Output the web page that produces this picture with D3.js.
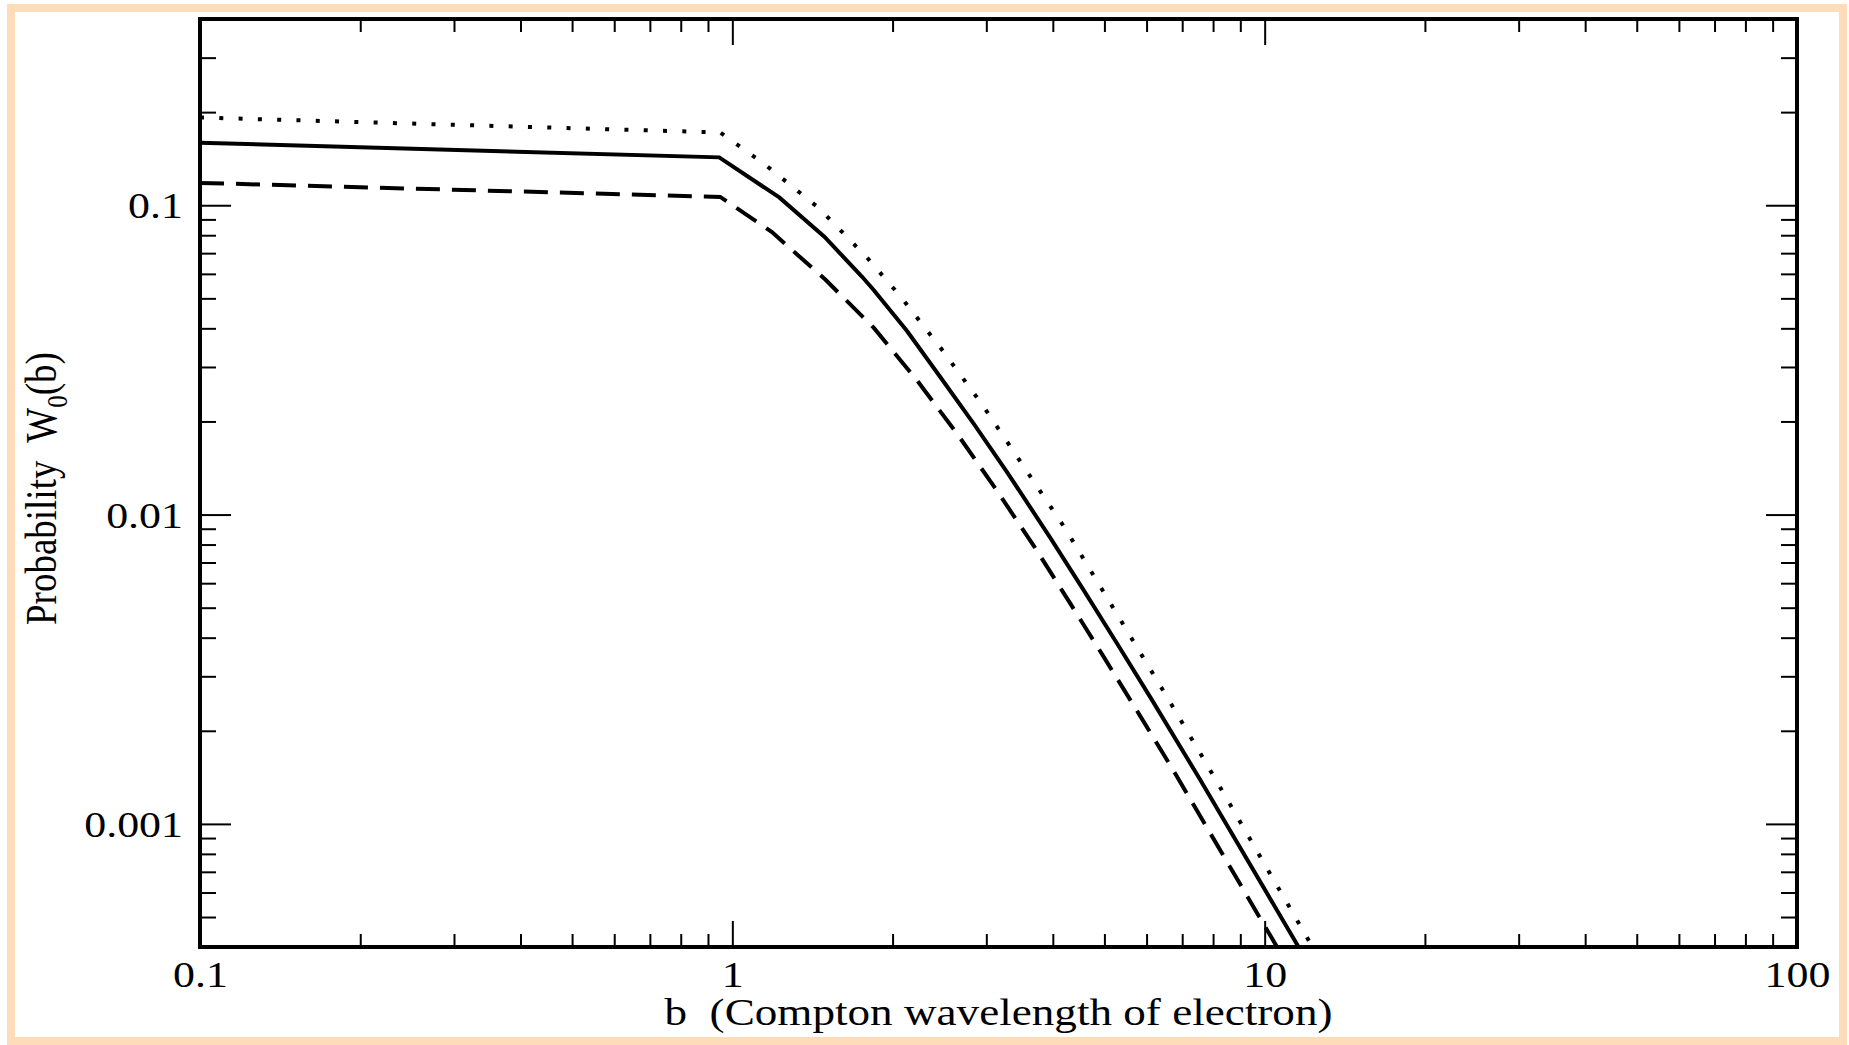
<!DOCTYPE html>
<html>
<head>
<meta charset="utf-8">
<script src="https://cdn.jsdelivr.net/npm/d3@7"></script>
<style>
  body { margin: 0; background: #fff; }
  svg { display: block; }
  text { font-family: "Liberation Serif", "Times New Roman", serif; fill: #000; }
</style>
</head>
<body>
<div id="container"></div>
<script>
// data: b in Compton wavelengths, W0(b)
const bSolid = [0.1, 0.945, 1.225, 1.489, 1.753, 1.843, 2.129, 2.458, 2.84, 3.281, 3.957, 4.57, 5.281, 6.1, 7.571, 11.58];
const wSolid = [0.1592, 0.1428, 0.106, 0.0791, 0.0587, 0.0532, 0.0392, 0.02784, 0.01968, 0.01372, 0.00841, 0.0057, 0.00383, 0.002564, 0.001387, 0.0004];

const bDotted = [0.1, 0.949, 1.145, 1.453, 1.791, 2.068, 2.477, 2.945, 3.465, 4.224, 5.498, 6.62, 7.96, 12.3];
const wDotted = [0.1922, 0.1719, 0.1365, 0.098, 0.0677, 0.0508, 0.0341, 0.0227, 0.01496, 0.00899, 0.004244, 0.0025, 0.001459, 0.0004];

const bDashed = [0.1, 0.949, 1.187, 1.495, 1.843, 2.223, 2.65, 3.133, 3.681, 4.301, 5.005, 5.823, 6.745, 10.55];
const wDashed = [0.1181, 0.1064, 0.0819, 0.0575, 0.0402, 0.02715, 0.01815, 0.01202, 0.00794, 0.0052, 0.003428, 0.002248, 0.001484, 0.0004];

const xMajor = [0.1, 1, 10, 100];
const xTickLabels = ["0.1", "1", "10", "100"];
const xMinor = [0.2, 0.3, 0.4, 0.5, 0.6, 0.7, 0.8, 0.9, 2, 3, 4, 5, 6, 7, 8, 9, 20, 30, 40, 50, 60, 70, 80, 90];
const yMajor = [0.1, 0.01, 0.001];
const yTickLabels = ["0.1", "0.01", "0.001"];
const yMinor = [0.4, 0.3, 0.2, 0.09, 0.08, 0.07, 0.06, 0.05, 0.04, 0.03, 0.02,
  0.009, 0.008, 0.007, 0.006, 0.005, 0.004, 0.003, 0.002,
  0.0009, 0.0008, 0.0007, 0.0006, 0.0005, 0.0004];

const w = 1849;
const h = 1045;
const pLeft = 200, pRight = 1797, pTop = 19, pBottom = 947;
const stretch = 1.22; // glyphs in the picture are wider than plain Times

const svg = d3.select("#container").append("svg")
  .attr("width", w)
  .attr("height", h);

// peach frame round the figure
svg.append("rect")
  .attr("x", 11).attr("y", 8)
  .attr("width", 1832).attr("height", 1033)
  .attr("fill", "#fff")
  .attr("stroke", "#ffdcb9")
  .attr("stroke-width", 8);

const x = d3.scaleLog().domain([0.1, 100]).range([pLeft, pRight]);
const y = d3.scaleLog().domain([0.0004, 0.4]).range([pBottom, pTop]);

// tick marks on all four sides, pointing inward
function ticks(axis, tr, values, size) {
  const g = svg.append("g")
    .attr("transform", tr)
    .call(axis.tickValues(values).tickSize(size).tickFormat(""));
  g.select(".domain").remove();
  g.selectAll(".tick line").attr("stroke", "#000").attr("stroke-width", 2);
  g.selectAll(".tick text").remove();
}
ticks(d3.axisTop(x), `translate(0,${pBottom})`, xMajor, 26);
ticks(d3.axisTop(x), `translate(0,${pBottom})`, xMinor, 13);
ticks(d3.axisBottom(x), `translate(0,${pTop})`, xMajor, 26);
ticks(d3.axisBottom(x), `translate(0,${pTop})`, xMinor, 13);
ticks(d3.axisRight(y), `translate(${pLeft},0)`, yMajor, 31);
ticks(d3.axisRight(y), `translate(${pLeft},0)`, yMinor, 16);
ticks(d3.axisLeft(y), `translate(${pRight},0)`, yMajor, 31);
ticks(d3.axisLeft(y), `translate(${pRight},0)`, yMinor, 16);

// tick labels
const xLab = svg.append("g")
  .attr("transform", `translate(0,${pBottom})`)
  .call(d3.axisBottom(x).tickValues(xMajor).tickSize(0)
    .tickFormat((d, i) => xTickLabels[i]));
xLab.select(".domain").remove();
xLab.selectAll(".tick text")
  .attr("y", null).attr("dy", null)
  .attr("transform", `translate(0,40) scale(${stretch},1)`)
  .style("font-size", "36px")
  .style("font-family", "Liberation Serif");

const yLab = svg.append("g")
  .attr("transform", `translate(${pLeft},0)`)
  .call(d3.axisLeft(y).tickValues(yMajor).tickSize(0)
    .tickFormat((d, i) => yTickLabels[i]));
yLab.select(".domain").remove();
yLab.selectAll(".tick text")
  .attr("x", null).attr("dy", null)
  .attr("transform", `translate(-17,12.5) scale(${stretch},1)`)
  .style("font-size", "36px")
  .style("font-family", "Liberation Serif");

// curves
svg.append("clipPath").attr("id", "plot")
  .append("rect")
  .attr("x", pLeft).attr("y", pTop)
  .attr("width", pRight - pLeft).attr("height", pBottom - pTop);

const line = d3.line().x((d) => x(d[0])).y((d) => y(d[1]));
const series = [
  { b: bSolid, v: wSolid, dash: null },
  { b: bDotted, v: wDotted, dash: "4,15.3" },
  { b: bDashed, v: wDashed, dash: "24,12" },
];
series.forEach((s) => {
  svg.append("path")
    .datum(s.b.map((b, i) => [b, s.v[i]]))
    .attr("clip-path", "url(#plot)")
    .attr("fill", "none")
    .attr("stroke", "#000")
    .attr("stroke-width", 4)
    .attr("stroke-dasharray", s.dash)
    .attr("d", line);
});

// plot frame
svg.append("rect")
  .attr("x", pLeft).attr("y", pTop)
  .attr("width", pRight - pLeft).attr("height", pBottom - pTop)
  .attr("fill", "none")
  .attr("stroke", "#000")
  .attr("stroke-width", 4);

// axis titles
svg.append("text")
  .attr("xml:space", "preserve")
  .attr("transform", `translate(${(pLeft + pRight) / 2},1025) scale(${stretch},1)`)
  .attr("text-anchor", "middle")
  .style("font-size", "37px")
  .style("white-space", "pre")
  .text("b  (Compton wavelength of electron)");

const yTitle = svg.append("text")
  .attr("xml:space", "preserve")
  .attr("transform", `translate(56,625) scale(${stretch},1) rotate(-90)`)
  .attr("text-anchor", "start")
  .style("font-size", "37px")
  .style("white-space", "pre");
yTitle.append("tspan").text("Probability  W");
yTitle.append("tspan").attr("dy", 9).style("font-size", "25px").text("0");
yTitle.append("tspan").attr("dy", -9).text("(b)");
</script>
</body>
</html>
